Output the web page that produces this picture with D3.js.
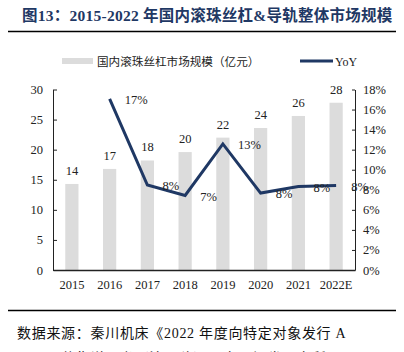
<!DOCTYPE html>
<html>
<head>
<meta charset="utf-8">
<script src="https://d3js.org/d3.v7.min.js"></script>
<style>
  body { margin: 0; background: #fff; }
  svg { display: block; }
</style>
</head>
<body>
<div id="chart"></div>
<script>
// data
var years = ["2015", "2016", "2017", "2018", "2019", "2020", "2021", "2022E"];
var marketSize = [14.3, 16.8, 18.2, 19.6, 22.0, 23.6, 25.6, 27.8];
var sizeLabels = ["14", "17", "18", "20", "22", "24", "26", "28"];
var yoy = [null, 17.07, 8.47, 7.43, 12.57, 7.67, 8.33, 8.43];
var yoyLabels = [null, "17%", "8%", "7%", "13%", "8%", "8%", "8%"];
var leftTicks = [0, 5, 10, 15, 20, 25, 30];
var rightTicks = [0, 2, 4, 6, 8, 10, 12, 14, 16, 18];

var W = 404, H = 352;
var margin = {top: 89.5, right: 49, bottom: 82, left: 53};
var width = W - margin.left - margin.right,
    height = H - margin.top - margin.bottom;

var serif = "'Liberation Serif', 'Times New Roman', serif";
var cjkSerif = "'Liberation Serif', 'Noto Sans CJK SC', serif";
var navy = "#1f3864";
var barColor = "#dcdcdc";

var svg = d3.select("#chart").append("svg")
    .attr("width", W).attr("height", H);

// title
svg.append("text")
    .attr("x", 22).attr("y", 21)
    .attr("font-family", cjkSerif)
    .attr("font-size", 15.5).attr("font-weight", "bold")
    .attr("letter-spacing", 0.25)
    .attr("fill", navy)
    .text("图13：2015-2022 年国内滚珠丝杠&导轨整体市场规模");

svg.append("line")
    .attr("x1", 8).attr("x2", 396).attr("y1", 31.5).attr("y2", 31.5)
    .attr("stroke", "#000").attr("stroke-width", 1.5);

// legend
svg.append("rect").attr("x", 62).attr("y", 58).attr("width", 31).attr("height", 6)
    .attr("fill", barColor);
svg.append("text").attr("x", 97).attr("y", 65.5)
    .attr("font-family", cjkSerif).attr("font-size", 11.6).attr("fill", "#222")
    .text("国内滚珠丝杠市场规模（亿元）");
svg.append("line").attr("x1", 300).attr("x2", 333).attr("y1", 61).attr("y2", 61)
    .attr("stroke", navy).attr("stroke-width", 3);
svg.append("text").attr("x", 335).attr("y", 65.5)
    .attr("font-family", serif).attr("font-size", 12).attr("fill", "#222")
    .text("YoY");

var g = svg.append("g")
    .attr("transform", "translate(" + margin.left + "," + margin.top + ")");

var x = d3.scaleBand().domain(years).range([0, width]).paddingInner(0.65).paddingOuter(0.325);
var yL = d3.scaleLinear().domain([0, 30]).range([height, 0]);
var yR = d3.scaleLinear().domain([0, 18]).range([height, 0]);

// bars
g.selectAll(".bar").data(marketSize).enter().append("rect")
    .attr("class", "bar")
    .attr("x", function(d, i) { return x(years[i]); })
    .attr("y", function(d) { return yL(d); })
    .attr("width", x.bandwidth())
    .attr("height", function(d) { return height - yL(d); })
    .attr("fill", barColor);

g.selectAll(".blabel").data(marketSize).enter().append("text")
    .attr("x", function(d, i) { return x(years[i]) + x.bandwidth() / 2; })
    .attr("y", function(d) { return yL(d) - 9; })
    .attr("text-anchor", "middle")
    .attr("font-family", serif).attr("font-size", 12.5).attr("fill", "#222")
    .text(function(d, i) { return sizeLabels[i]; });

// axes
var axL = g.append("g")
    .call(d3.axisLeft(yL).tickValues(leftTicks).tickSize(-4).tickPadding(10).tickSizeOuter(0));
var axR = g.append("g").attr("transform", "translate(" + width + ",0)")
    .call(d3.axisRight(yR).tickValues(rightTicks).tickFormat(function(d) { return d + "%"; })
      .tickSize(-3).tickPadding(8).tickSizeOuter(0));
var axB = g.append("g").attr("transform", "translate(0," + height + ")")
    .call(d3.axisBottom(x).tickSize(0).tickPadding(10).tickSizeOuter(0));

[axL, axR, axB].forEach(function(a) {
  a.selectAll("path, line").attr("stroke", "#222");
  a.selectAll("text").attr("font-family", serif).attr("font-size", 12.5).attr("fill", "#222");
});
axB.select("path").attr("stroke-width", 1.3);

// yoy line
var pts = yoy.map(function(d, i) { return {v: d, i: i}; }).filter(function(d) { return d.v !== null; });
var line = d3.line()
    .x(function(d) { return x(years[d.i]) + x.bandwidth() / 2; })
    .y(function(d) { return yR(d.v); });

g.append("path").datum(pts)
    .attr("d", line)
    .attr("fill", "none").attr("stroke", navy).attr("stroke-width", 3)
    .attr("stroke-linejoin", "miter");

g.selectAll(".ylabel").data(pts).enter().append("text")
    .attr("x", function(d) { return x(years[d.i]) + x.bandwidth() / 2 + 15; })
    .attr("y", function(d) { return yR(d.v) + 1; })
    .attr("dy", "0.35em")
    .attr("font-family", serif).attr("font-size", 12.5).attr("fill", "#222")
    .text(function(d) { return yoyLabels[d.i]; });

// bottom rule and source
svg.append("line")
    .attr("x1", 8).attr("x2", 396).attr("y1", 310.5).attr("y2", 310.5)
    .attr("stroke", "#000").attr("stroke-width", 1.5);

svg.append("text").attr("x", 17).attr("y", 338)
    .attr("font-family", cjkSerif).attr("font-size", 14).attr("fill", "#111")
    .attr("letter-spacing", 0.7)
    .text("数据来源：秦川机床《2022 年度向特定对象发行 A");
svg.append("text").attr("x", 17).attr("y", 363)
    .attr("font-family", cjkSerif).attr("font-size", 14).attr("fill", "#111")
    .attr("letter-spacing", 0.7)
    .text("股股票募集说明书（注册稿）》，东吴证券研究所");
</script>
</body>
</html>
